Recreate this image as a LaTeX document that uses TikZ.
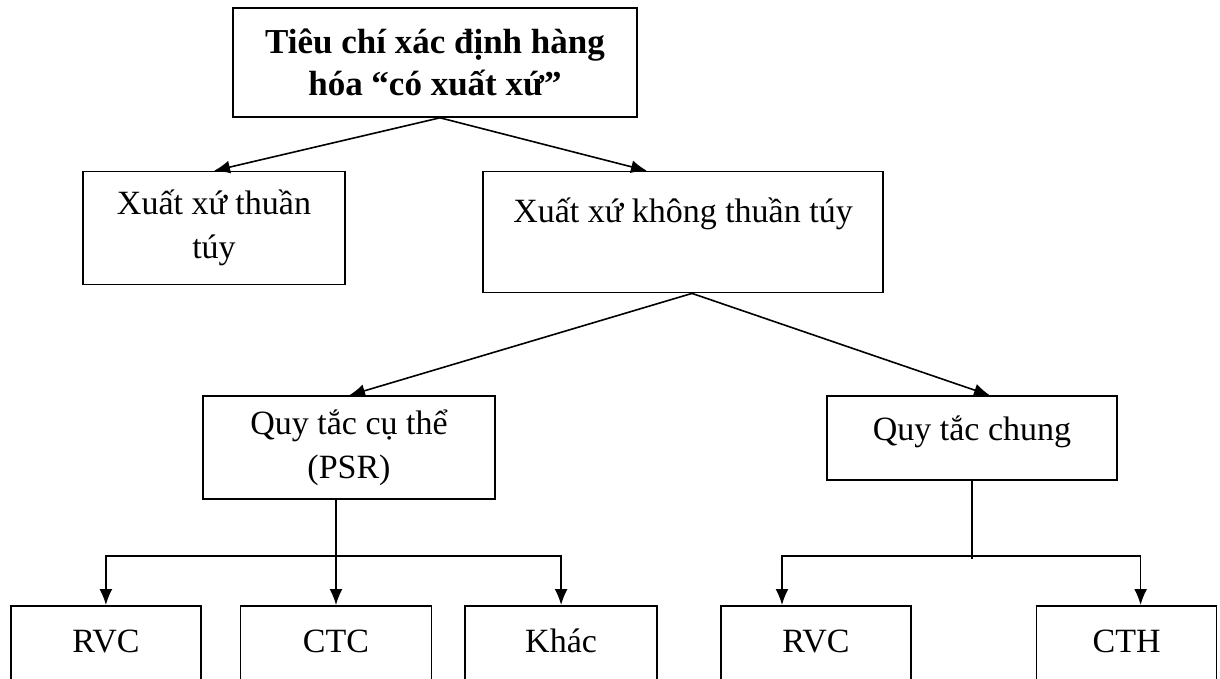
\documentclass[tikz,border=0pt]{standalone}
\usepackage{fontspec}
\setmainfont{Liberation Serif}
\usetikzlibrary{arrows.meta, positioning}

\begin{document}
\begin{tikzpicture}[
    x=1pt, y=1pt,
    >={Latex[length=16pt, width=13pt]},
    font=\fontsize{34}{44}\selectfont,
    % Style definitions
    box/.style={draw, line width=1.6pt, align=center, inner sep=0pt},
    titlebox/.style={box, font=\fontsize{35}{42}\selectfont\bfseries, minimum width=404pt, minimum height=109pt},
    leaf/.style={box, minimum width=190pt, minimum height=76pt, text height=25pt, text depth=8pt},
    arrow/.style={->, line width=1.6pt, black},
    link/.style={line width=1.6pt, black},
]
\useasboundingbox (0,0) rectangle (1220,-679);

%% ---------- TOP ----------
\node[titlebox] (criteria) at (435,-62.5) {Tiêu chí xác định hàng\\hóa “có xuất xứ”};

%% ---------- SECOND LEVEL ----------
\node[box, minimum width=262pt, minimum height=113pt, below=53pt of criteria, xshift=-221pt] (pure) {Xuất xứ thuần\\túy};
\node[box, minimum width=400pt, minimum height=121pt, below=53pt of criteria, xshift=248pt] (nonpure) {Xuất xứ không thuần túy\\~};

%% ---------- RULES ----------
\node[box, minimum width=292pt, minimum height=103pt, below=102pt of nonpure, xshift=-334pt] (specific) {Quy tắc cụ thể\\(PSR)};
\node[box, minimum width=290pt, minimum height=84pt, text height=25pt, text depth=21pt, below=102pt of nonpure, xshift=289pt] (general) {Quy tắc chung};

%% ---------- LEAVES ----------
\node[leaf, minimum width=191pt, below=105pt of specific, xshift=-13pt] (ctc) {CTC};
\node[leaf, left=38pt of ctc] (rvc_psr) {RVC};
\node[leaf, minimum width=192pt, right=32pt of ctc] (other) {Khác};
\node[leaf, below=124pt of general, xshift=-156pt] (rvc_gen) {RVC};
\node[leaf, minimum width=180pt, right=124pt of rvc_gen] (cth) {CTH};

%% ========== ARROWS ==========

% Criteria to origin types
\draw[arrow] ([xshift=5pt]criteria.south) -- (pure.north);
\draw[arrow] ([xshift=5pt]criteria.south) -- ([xshift=-36pt]nonpure.north);

% Non-pure origin to rules
\draw[arrow] ([xshift=9pt]nonpure.south) -- (specific.north);
\draw[arrow] ([xshift=9pt]nonpure.south) -- ([xshift=18pt]general.north);

% PSR branches
\coordinate[above=49pt of ctc.north] (psr_split);
\draw[link] (specific.south -| psr_split) -- (psr_split);
\draw[arrow] (psr_split) -- (ctc.north);
\draw[arrow] (psr_split) -| (rvc_psr.north);
\draw[arrow] (psr_split) -| (other.north);

% General rule branches
\coordinate (gen_split) at (general.south |- psr_split);
\draw[link] (general.south) -- ([yshift=-3pt]gen_split);
\draw[arrow] (gen_split) -| ([xshift=-34pt]rvc_gen.north);
\draw[arrow] (gen_split) -| ([xshift=14pt]cth.north);

\end{tikzpicture}
\end{document}
